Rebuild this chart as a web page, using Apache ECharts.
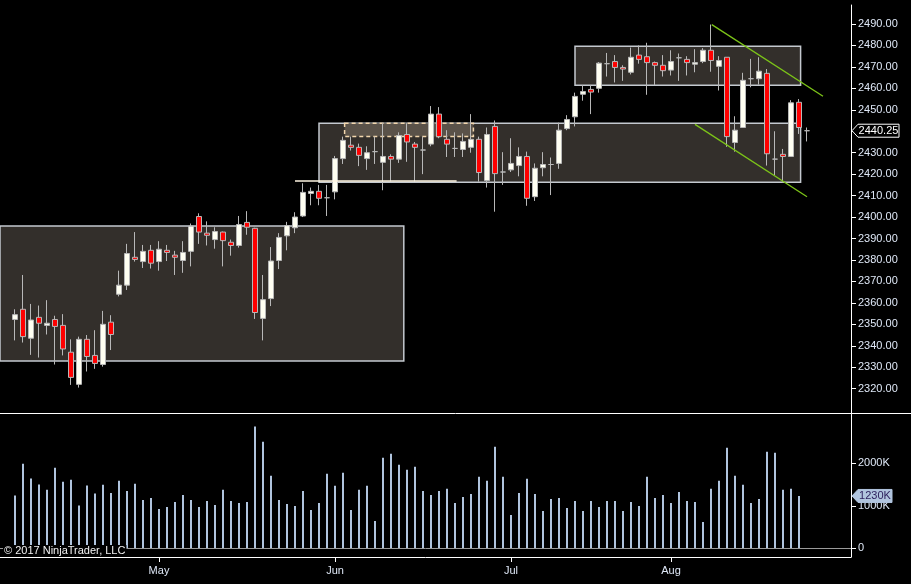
<!DOCTYPE html>
<html><head><meta charset="utf-8">
<script src="https://cdn.jsdelivr.net/npm/echarts@6/dist/echarts.min.js"></script>
<style>html,body{margin:0;padding:0;background:#000;}#c{width:911px;height:584px;}</style>
</head><body><div id="c"></div>
<script>
// ---- data (bar index 0 = first trading day shown, early April 2017) ----
const opens  = [2352.25,2357,2343.5,2353.25,2349.5,2352.25,2349.5,2337,2322,2343,
  2335.5,2331.25,2351,2364,2368.25,2381.25,2379.25,2384.5,2379.25,2384.5,
  2382.25,2379.75,2384,2400.25,2392.5,2389.5,2393,2388.25,2386.75,2397.5,
  2394.75,2352.75,2362,2379.75,2391.25,2395,2400.5,2411,2412,2409,
  2411.75,2427.25,2433.5,2432.5,2427.25,2430.5,2425.5,2428.25,2427,2438.5,
  2434,2431.25,2434,2448,2436.25,2432,2431.5,2432.5,2436.25,2417,
  2442.25,2421,2422,2424,2428.25,2409.5,2423,2424.5,2425,2441.25,
  2446.75,2457.25,2459.5,2460,2471.5,2472.5,2469.75,2467.5,2475.5,2474.75,
  2472,2470.75,2468.5,2474.25,2473.5,2471.25,2472.5,2477.75,2470.25,2474.5,
  2434.75,2441.75,2464.5,2464.5,2467,2427,2429.25,2428.25,2453.5,2440.25];
const closes = [2354.5,2344.25,2352,2350.5,2350.5,2349,2338.5,2325.25,2343,2335,
  2331.75,2350,2345.25,2368.25,2383,2380.25,2384,2378.5,2385,2383.5,
  2381.25,2383.5,2395.75,2393,2391.5,2393.25,2389,2386.75,2396.5,2395.25,
  2355.5,2361.5,2379.5,2390.5,2396,2400,2411.5,2412,2408.75,2409,
  2427.25,2435.75,2432.5,2428.75,2430,2430.5,2428.25,2427,2438,2435,
  2432.5,2431.25,2448,2437.5,2434,2432,2435.25,2436.25,2420.75,2438.5,
  2420.25,2421,2425,2428.25,2408.75,2422.75,2424.5,2424.5,2440.5,2445.5,
  2456.25,2458.5,2458.25,2471.75,2471.5,2469.75,2469,2474.5,2473.5,2472,
  2470.75,2468.25,2472.5,2474.25,2472,2472,2477.75,2473,2473,2437.5,
  2440.5,2463.75,2464.5,2468,2429.5,2427,2428.25,2453.25,2441.75,2440.25];
const lows   = [2342.5,2341.5,2335.75,2334.5,2345.25,2331.25,2335.5,2321.75,2320.5,2328,
  2329.25,2330.25,2338,2363,2366,2379.25,2376.25,2376,2375,2379.5,
  2373,2374,2377,2387.5,2386.75,2385.25,2377,2382,2385.75,2391.75,
  2352.5,2342.5,2358.5,2375.75,2384.5,2392.5,2400,2405.5,2405.5,2400.5,
  2408.25,2424.75,2431,2423.75,2422,2424.75,2412.5,2416.5,2425.25,2425.75,
  2416.5,2420,2433,2436.75,2428,2428,2428,2430,2416.5,2413.75,
  2402.5,2415,2421,2419,2405.25,2407.5,2419,2410.25,2422.5,2440.5,
  2442.25,2454.25,2448,2458,2465.5,2462.75,2463.5,2466.5,2471.5,2457,
  2461.5,2465.5,2466,2463.5,2466,2467.5,2471.75,2467.75,2459,2432.75,
  2430.5,2441.75,2460.5,2461.75,2424,2419.5,2416,2428.25,2438.75,2435.25];
const highs  = [2357,2373,2359.5,2358.75,2361.25,2354,2354.75,2343,2344.25,2345,
  2347.25,2356.25,2354.25,2375,2387.5,2393,2387,2387,2388.75,2387,
  2384.25,2388.75,2397,2401.75,2398,2395.25,2393.25,2389.5,2400.5,2402.75,
  2395,2373,2386,2392.5,2397.75,2402.25,2415.75,2413.75,2415,2415,
  2428.5,2437.5,2437.5,2434.25,2433,2437.5,2443.75,2429.25,2439.5,2443.75,
  2435,2437.5,2451.75,2451.25,2440.5,2439.5,2439,2448,2437.5,2441.75,
  2445,2430.25,2436.75,2432.5,2430.5,2425,2430.25,2427.75,2444,2447.5,
  2458,2461.5,2461.5,2472.25,2476.5,2475.5,2470.75,2479,2480,2481.25,
  2472.5,2475.5,2477.75,2476.25,2475,2478.25,2478.75,2489.75,2475,2474.5,
  2447,2467.25,2473.75,2474.5,2469,2440,2431.75,2454.5,2455,2441.75];
const volumes = [1239,1984,1639,1498,1373,1890,1561,1608,1004,1475,
  1286,1490,1302,1584,1349,1514,1137,1184,925,973,
  1090,1255,1137,973,1114,1020,1373,1114,1067,1090,
  2855,2502,1702,1137,1043,996,1349,902,1067,1749,
  1467,1773,902,1373,1467,643,2125,2220,1961,1843,
  1914,1349,1255,1349,1396,1067,1208,1278,1678,1584,
  2384,1678,784,1302,1631,1278,878,1161,1184,949,
  1114,878,1114,973,1114,1114,878,1090,996,1678,
  1184,1255,1067,1325,1114,1090,620,1396,1584,2361,
  1702,1490,1067,1161,2267,2243,1373,1396,1230,0];
const monthTicks  = [18, 40, 62, 82];
const monthLabels = ['May', 'Jun', 'Jul', 'Aug'];
const priceTicks  = [2320,2330,2340,2350,2360,2370,2380,2390,2400,2410,2420,2430,2440,2450,2460,2470,2480,2490];
const volumeTicks = [0, 1000, 2000];
// drawn annotations, in [bar index, price] data units
const zoneBoxes   = [[-1.875, 2395.8, 48.6, 2332.9], [38.0, 2443.7, 98.2, 2416.2], [70.0, 2479.6, 98.2, 2461.4]];
const dashedBox   = [41.2, 2443.7, 57.3, 2437.6];
const supportLine = [35.0, 2416.8, 55.2, 2416.8];
const channelLines = [[87.1, 2489.7, 101.0, 2456.3], [85.0, 2443.2, 99.0, 2409.5]];

const candleData = opens.map((o, i) => [i, o, closes[i], lows[i], highs[i]]);
const volData = volumes.map((v, i) => [i, v]);
const txt = '#dfe8f7';
const font = 'Liberation Sans, Arial, sans-serif';
const fs = 11;

const chart = echarts.init(document.getElementById('c'), null, {renderer: 'canvas'});
const xCommon = {type: 'value', min: -1.875, max: 104.5, splitLine: {show: false}};
chart.setOption({
  animation: false,
  backgroundColor: '#000',
  grid: [
    {left: 0, right: 60, top: 5, height: 408},
    {left: 0, right: 60, top: 414, height: 143}
  ],
  xAxis: [
    Object.assign({gridIndex: 0, axisLine: {show: false}, axisTick: {show: false}, axisLabel: {show: false}}, xCommon),
    Object.assign({gridIndex: 1,
      axisLine: {show: true, onZero: false, lineStyle: {color: '#fff', width: 1}},
      axisTick: {show: true, customValues: monthTicks, length: 5, lineStyle: {color: '#fff'}},
      axisLabel: {show: true, customValues: monthTicks, color: txt, fontFamily: font, fontSize: fs, margin: 8,
        formatter: v => monthLabels[monthTicks.indexOf(v)] || ''}}, xCommon)
  ],
  yAxis: [
    {type: 'value', gridIndex: 0, position: 'right', min: 2308.65, max: 2498.86, scale: true,
      splitLine: {show: false},
      axisLine: {show: true, onZero: false, lineStyle: {color: '#fff'}},
      axisTick: {show: true, customValues: priceTicks, length: 5, lineStyle: {color: '#fff'}},
      axisLabel: {customValues: priceTicks, color: txt, fontFamily: font, fontSize: fs, margin: 7,
        formatter: v => v.toFixed(2)}},
    {type: 'value', gridIndex: 1, position: 'right', min: -200, max: 3150,
      splitLine: {show: false},
      axisLine: {show: true, onZero: false, lineStyle: {color: '#fff'}},
      axisTick: {show: true, customValues: volumeTicks, length: 5, lineStyle: {color: '#fff'}},
      axisLabel: {customValues: volumeTicks, color: txt, fontFamily: font, fontSize: fs, margin: 7,
        formatter: v => v === 0 ? '0' : v + 'K'}}
  ],
  series: [
    {type: 'candlestick', xAxisIndex: 0, yAxisIndex: 0, data: candleData, barWidth: 6,
      itemStyle: {color: '#fffff2', color0: '#ff0000', borderColor: '#b8b8b8', borderColor0: '#b8b8b8',
        borderColorDoji: '#b8b8b8', borderWidth: 1},
      markArea: {silent: true,
        data: zoneBoxes.map(b => [
          {coord: [b[0], b[1]], itemStyle: {color: '#332f2b', borderColor: '#c4c9cf', borderWidth: 1.5}},
          {coord: [b[2], b[3]]}
        ]).concat([[
          {coord: [dashedBox[0], dashedBox[1]], itemStyle: {color: '#5a5249', borderColor: '#f2d6ad', borderWidth: 1.5, borderType: [4, 3]}},
          {coord: [dashedBox[2], dashedBox[3]]}
        ]])},
      markLine: {silent: true, symbol: ['none', 'none'], label: {show: false},
        data: channelLines.map(l => [
          {coord: [l[0], l[1]], lineStyle: {color: '#7cc418', width: 1.3, type: 'solid'}},
          {coord: [l[2], l[3]]}
        ]).concat([[
          {coord: [supportLine[0], supportLine[1]], lineStyle: {color: '#fff6e2', width: 1.5, type: 'solid'}},
          {coord: [supportLine[2], supportLine[3]]}
        ]])}
    },
    {type: 'bar', xAxisIndex: 1, yAxisIndex: 1, data: volData, barWidth: 2,
      itemStyle: {color: '#b0c4de'},
      markLine: {silent: true, symbol: ['none', 'none'], label: {show: false},
        lineStyle: {color: '#9a9a9a', width: 1, type: 'solid'}, data: [{yAxis: 0}]}}
  ]
});

// value badges on the right axis, placed from the data via the axes
const lastPrice = closes[closes.length - 1];
let lastVol = 0;
for (let i = volumes.length - 1; i >= 0; i--) { if (volumes[i] > 0) { lastVol = volumes[i]; break; } }
const axisX = chart.convertToPixel({xAxisIndex: 0}, 104.5);
const py = chart.convertToPixel({yAxisIndex: 0}, lastPrice);
const vy = chart.convertToPixel({yAxisIndex: 1}, lastVol);
function badge(y, w, fill, stroke, color, text) {
  return [
    {type: 'polygon', z: 200, zlevel: 1, shape: {points: [[axisX + 1, y], [axisX + 7, y - 6.5], [axisX + w, y - 6.5], [axisX + w, y + 6.5], [axisX + 7, y + 6.5]]},
      style: {fill: fill, stroke: stroke, lineWidth: 1}},
    {type: 'text', z: 201, zlevel: 1, x: axisX + 7 + (w - 7) / 2, y: y, style: {text: text, fill: color, font: fs + 'px ' + font, textAlign: 'center', textVerticalAlign: 'middle'}}
  ];
}
chart.setOption({graphic: [
  {type: 'line', shape: {x1: 0, y1: 413.5, x2: 911, y2: 413.5}, style: {stroke: '#fff', lineWidth: 1}, z: 50}]
  .concat(badge(py, 48, '#000', '#fff', '#fff', lastPrice.toFixed(2)))
  .concat(badge(vy, 41, '#b0c4de', '#b0c4de', '#2b1f5c', lastVol + 'K'))
  .concat([{type: 'text', left: 3, top: 545, z: 200, zlevel: 1,
    style: {text: '\u00a9 2017 NinjaTrader, LLC', fill: '#f0f0f0', font: fs + 'px ' + font, backgroundColor: '#000', padding: [0, 1, 0, 1]}}])
});
</script></body></html>
